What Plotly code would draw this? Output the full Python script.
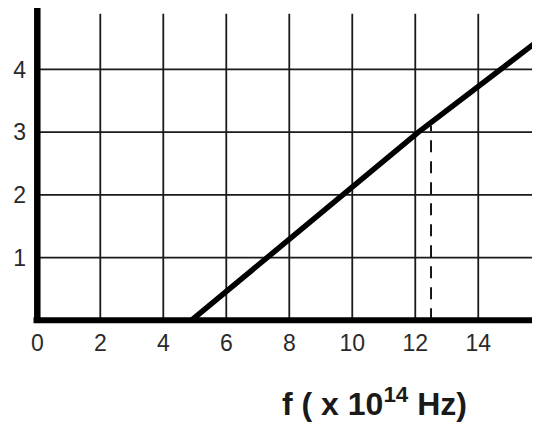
import plotly.graph_objects as go

# graph values
f_vals = [4.9, 12.1, 15.8]
y_vals = [0, 3, 4.42]
f_mark = 12.5
y_mark = 3.1

x_ticks = [0, 2, 4, 6, 8, 10, 12, 14]
y_ticks = [1, 2, 3, 4]

X_MAX = 15.96
Y_MAX = 4.98
GRID_TOP = 4.89

fig = go.Figure()
fig.add_trace(go.Scatter(x=f_vals, y=y_vals, mode='lines',
                         line=dict(color='black', width=5.5), showlegend=False, hoverinfo='skip'))
fig.add_trace(go.Scatter(x=[f_mark, f_mark], y=[0, y_mark], mode='lines',
                         line=dict(color='black', width=1.8, dash='12px,9px'), showlegend=False, hoverinfo='skip'))

shapes = []
# grid
for t in x_ticks[1:]:
    shapes.append(dict(type='line', xref='x', yref='y', x0=t, x1=t, y0=0, y1=GRID_TOP,
                       line=dict(color='#1a1a1a', width=1.8), layer='below'))
for t in y_ticks:
    shapes.append(dict(type='line', xref='x', yref='y', x0=0, x1=X_MAX, y0=t, y1=t,
                       line=dict(color='#1a1a1a', width=1.8), layer='below'))
# thick axes
shapes.append(dict(type='line', xref='x', yref='y', x0=0, x1=0, y0=-0.03, y1=Y_MAX,
                   line=dict(color='black', width=6.5)))
shapes.append(dict(type='line', xref='x', yref='y', x0=-0.12, x1=15.87, y0=0, y1=0,
                   line=dict(color='black', width=6)))

# page body adds an 8px margin, so the figure is 8px smaller than the window
fig.update_layout(
    width=532, height=417,
    margin=dict(l=23, r=0, t=0, b=101),
    plot_bgcolor='white', paper_bgcolor='white',
    font=dict(family='Liberation Sans, Arial', size=23, color='#2a2a2a'),
    shapes=shapes,
    xaxis=dict(range=[-0.2, X_MAX], tickvals=x_ticks, showgrid=False, zeroline=False,
               showline=False, ticks='', ticklabelstandoff=3, automargin=False),
    yaxis=dict(range=[-0.06, Y_MAX], tickvals=y_ticks, showgrid=False, zeroline=False,
               showline=False, ticks='', ticklabelstandoff=4, automargin=False),
    annotations=[dict(text='<b>f ( x 10<sup>14</sup> Hz)</b>', xref='x', yref='paper',
                      x=10.72, y=-0.246, xanchor='center', yanchor='middle', showarrow=False,
                      font=dict(size=32, color='#1a1a1a', family='Liberation Sans, Arial'))],
)

fig.write_html("out.html")
